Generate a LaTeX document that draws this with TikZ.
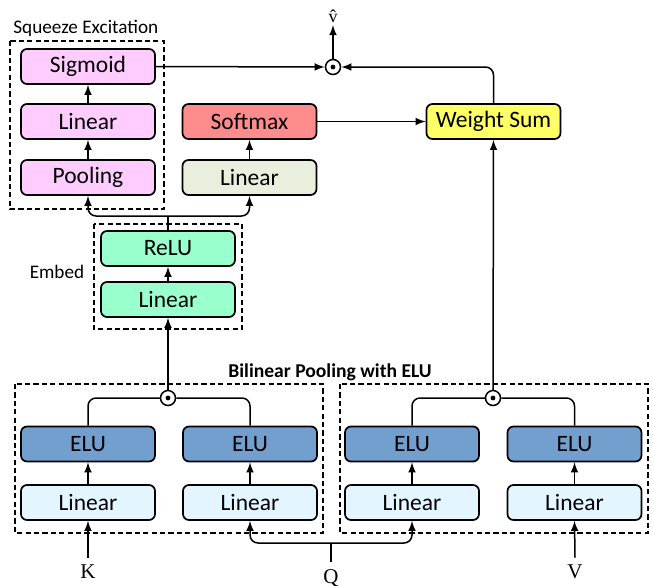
\documentclass[tikz,border=0pt]{standalone}
\usepackage{fontspec}
\setmainfont{Carlito}
\newfontfamily\inputfont{Liberation Serif}
\definecolor{sepink}{HTML}{FFCCFF}
\definecolor{softred}{HTML}{FF8C8C}
\definecolor{lingrey}{HTML}{E8EFDC}
\definecolor{wsyellow}{HTML}{FFFF66}
\definecolor{embedgreen}{HTML}{99FFCC}
\definecolor{elublue}{HTML}{729FCE}
\definecolor{lincyan}{HTML}{E3F6FF}
\begin{document}
\begin{tikzpicture}[x=0.5pt, y=-0.5pt, line width=0.75pt,
        block/.style={draw, line width=0.85pt, rounded corners=3pt, minimum width=67pt, minimum height=17.5pt, inner sep=0pt, font=\fontsize{11.75}{14}\selectfont},
        prod/.style={draw, circle, minimum size=7.5pt, inner sep=0pt, fill=white},
        group/.style={dashed, dash pattern=on 2.6pt off 1.6pt, line width=0.65pt},
        tag/.style={font=\fontsize{9.6}{11}\selectfont},
        input/.style={font=\inputfont\fontsize{10.5}{12}\selectfont}]
        \useasboundingbox (0,0) rectangle (653,585);
        % squeeze excitation
        \draw [group] (10,41) rectangle (164,209);
        \node [tag, anchor=west] (25) at (6,28) {Squeeze Excitation};
        \node [block, fill=sepink] (0) at (88,66.5) {Sigmoid};
        \node [block, fill=sepink] (1) at (88,121.5) {Linear};
        \node [block, fill=sepink] (2) at (88,177.5) {Pooling};
        \node [block, fill=softred] (3) at (249.5,121.5) {Softmax};
        \node [block, fill=lingrey] (4) at (249.5,177.5) {Linear};
        \node [block, fill=wsyellow] (5) at (493.5,121.5) {Weight Sum};
        \node [prod] (6) at (333,67) {};
        \node [font=\inputfont\fontsize{9}{10}\selectfont, inner sep=1pt] (7) at (333,16) {\^{v}};
        % embed
        \draw [group] (94,224) rectangle (242,329);
        \node [tag] (26) at (57,272) {Embed};
        \node [block, fill=embedgreen] (8) at (168,248.5) {ReLU};
        \node [block, fill=embedgreen] (9) at (168,299.5) {Linear};
        % bilinear pooling
        \node [tag, font=\bfseries\fontsize{9.8}{11}\selectfont] (27) at (330,372) {Bilinear Pooling with ELU};
        \draw [group] (15,384) rectangle (323,533);
        \draw [group] (340,384) rectangle (648,533);
        \node [block, fill=elublue] (10) at (88,444) {ELU};
        \node [block, fill=elublue] (11) at (250,444) {ELU};
        \node [block, fill=elublue] (12) at (412,444) {ELU};
        \node [block, fill=elublue] (13) at (574.5,444) {ELU};
        \node [block, fill=lincyan] (14) at (88,502.5) {Linear};
        \node [block, fill=lincyan] (15) at (250,502.5) {Linear};
        \node [block, fill=lincyan] (16) at (412,502.5) {Linear};
        \node [block, fill=lincyan] (17) at (574.5,502.5) {Linear};
        \node [prod] (18) at (168,398) {};
        \node [prod] (19) at (493,398) {};
        \node [input] (20) at (88,572) {K};
        \node [input] (21) at (331,578) {Q};
        \node [input] (22) at (575,572) {V};
        \coordinate (23) at (168,216);
        \coordinate (24) at (331,543);
        % dots of the products
        \fill (6.center) circle (1.2pt);
        \fill (18.center) circle (1.2pt);
        \fill (19.center) circle (1.2pt);
        % connectors
        \draw [-latex] (0.east) to (6.west);
        \draw [-latex] (6.north) to (7.south);
        \draw [-latex, rounded corners=4pt] (5.north) |- (6.east);
        \draw [-latex] (3.east) to (5.west);
        \draw [-latex] (2.north) to (1.south);
        \draw [-latex] (1.north) to (0.south);
        \draw [-latex] (4.north) to (3.south);
        \draw [-latex] (9.north) to (8.south);
        \draw (8.north) to (23);
        \draw [-latex, rounded corners=4pt] (23) -| (2.south);
        \draw [-latex, rounded corners=4pt] (23) -| (4.south);
        \draw [rounded corners=4pt] (10.north) |- (18.west);
        \draw [rounded corners=4pt] (11.north) |- (18.east);
        \draw [rounded corners=4pt] (12.north) |- (19.west);
        \draw [rounded corners=4pt] (13.north) |- (19.east);
        \draw [-latex] (18.north) to (9.south);
        \draw [-latex] (19.north) to (5.south);
        \draw [-latex] (14.north) to (10.south);
        \draw [-latex] (15.north) to (11.south);
        \draw [-latex] (16.north) to (12.south);
        \draw [-latex] (17.north) to (13.south);
        \draw [-latex] (20.north) to (14.south);
        \draw [-latex] (22.north) to (17.south);
        \draw (21.north) to (24);
        \draw [-latex, rounded corners=4pt] (24) -| (15.south);
        \draw [-latex, rounded corners=4pt] (24) -| (16.south);
\end{tikzpicture}
\end{document}
